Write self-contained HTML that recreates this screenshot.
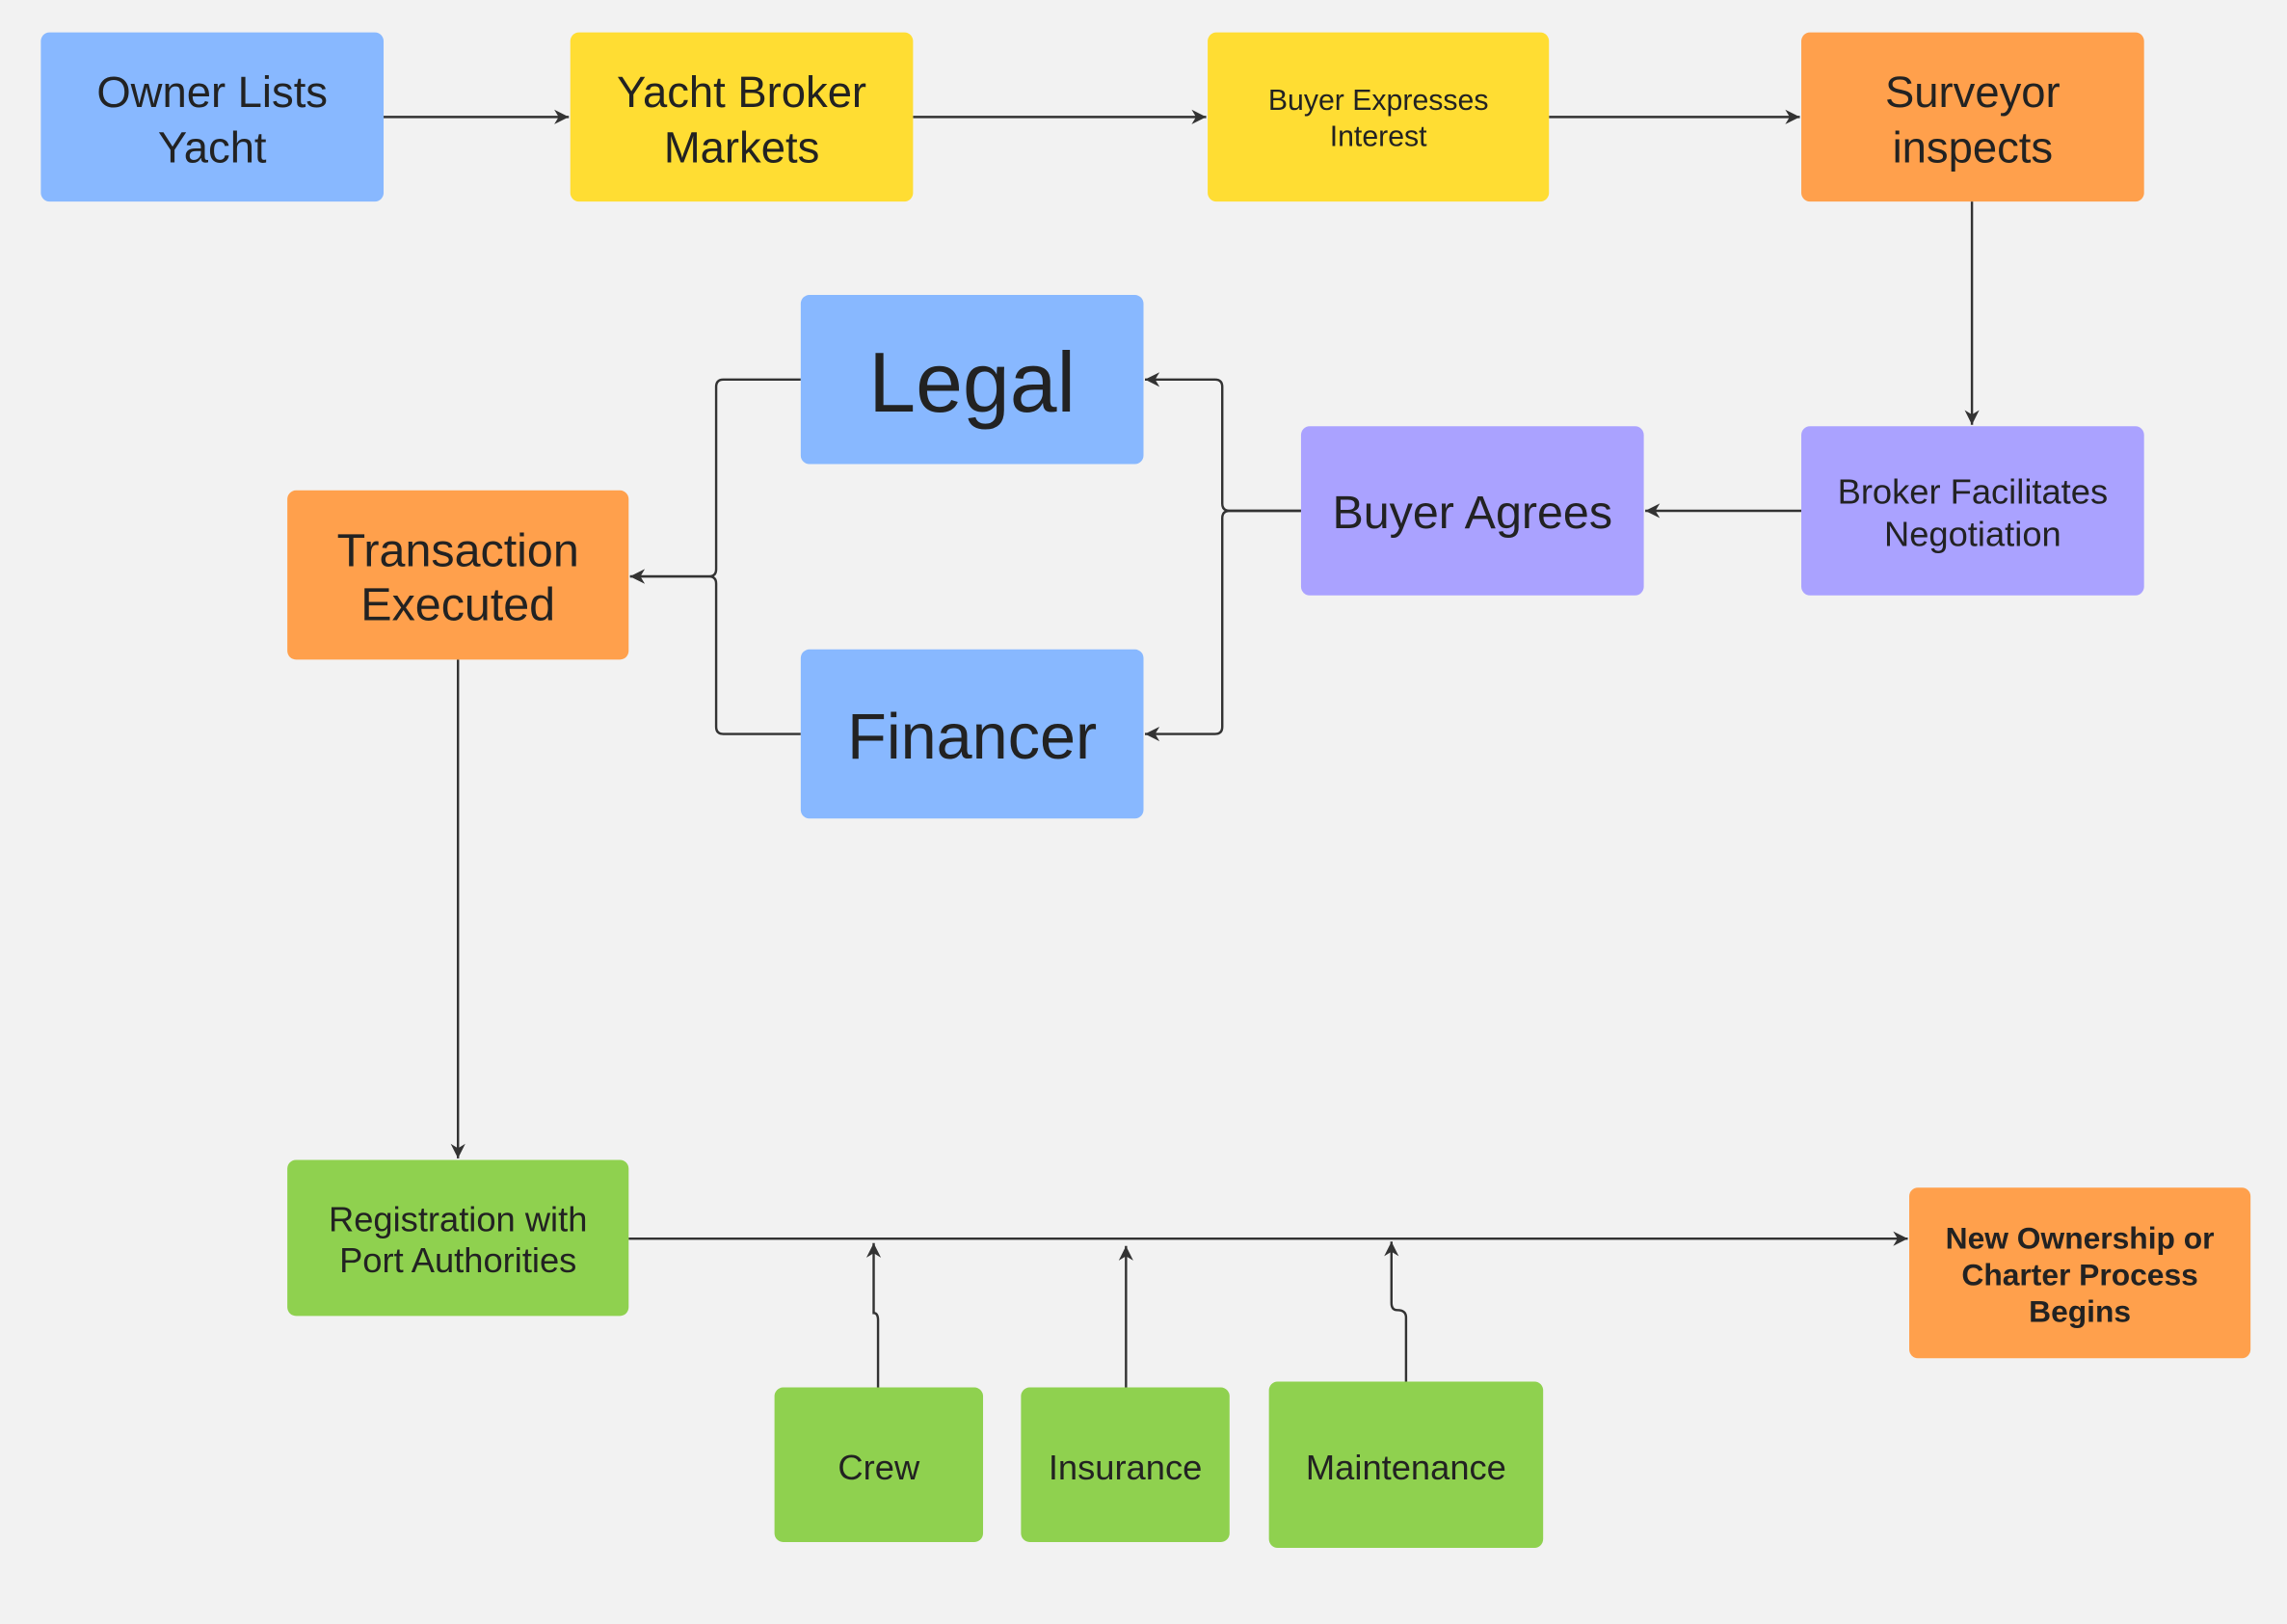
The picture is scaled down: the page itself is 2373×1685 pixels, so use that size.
<!DOCTYPE html>
<html><head><meta charset="utf-8"><style>
html,body{margin:0;padding:0;background:#f2f2f2;}
svg{display:block;}
text{font-family:"Liberation Sans",sans-serif;fill:#222;text-anchor:middle;}
</style></head><body>
<svg width="2373" height="1685" viewBox="0 0 1568 1113" xmlns="http://www.w3.org/2000/svg">
<defs>
<marker id="a" markerWidth="12" markerHeight="12" refX="11" refY="6" orient="auto" markerUnits="userSpaceOnUse">
<path d="M1,1 L11,6 L1,11 L4,6 Z" fill="#333"/>
</marker>
</defs>
<rect width="1568" height="1113" fill="#f2f2f2"/>
<g stroke="#333" stroke-width="1.6" fill="none" marker-end="url(#a)">
<path d="M263,80 H390"/>
<path d="M626,80 H827"/>
<path d="M1062,80 H1234"/>
<path d="M1352,138 V291"/>
<path d="M1235,350 H1128"/>
<path d="M892,350 H843 Q838,350 838,345 V265 Q838,260 833,260 H785"/>
<path d="M892,350 H843 Q838,350 838,355 V498 Q838,503 833,503 H785"/>
<path d="M549,260 H496 Q491,260 491,265 V390 Q491,395 486,395 H432"/>
<path d="M549,503 H496 Q491,503 491,498 V400 Q491,395 486,395 H432"/>
<path d="M314,452 V794"/>
<path d="M431,849 H1308"/>
<path d="M602,951 V905 Q602,900 599,900 V852"/>
<path d="M772,951 V854"/>
<path d="M964,947 V903 Q964,898 958,898 Q954,898 954,893 V851"/>
</g>
<g>
<rect x="28" y="22" width="235" height="116" rx="6" fill="#88b8ff"/>
<text x="145.5" y="73" font-size="30">Owner Lists</text><text x="145.5" y="111" font-size="30">Yacht</text>
<rect x="391" y="22" width="235" height="116" rx="6" fill="#ffdd33"/>
<text x="508.5" y="73" font-size="30">Yacht Broker</text><text x="508.5" y="111" font-size="30">Markets</text>
<rect x="828" y="22" width="234" height="116" rx="6" fill="#ffdd33"/>
<text x="945" y="75" font-size="20">Buyer Expresses</text><text x="945" y="100" font-size="20">Interest</text>
<rect x="1235" y="22" width="235" height="116" rx="6" fill="#ffa04c"/>
<text x="1352.5" y="73" font-size="30">Surveyor</text><text x="1352.5" y="111" font-size="30">inspects</text>
<rect x="549" y="202" width="235" height="116" rx="6" fill="#88b8ff"/>
<text x="666.5" y="282" font-size="58">Legal</text>
<rect x="892" y="292" width="235" height="116" rx="6" fill="#aaa2ff"/>
<text x="1009.5" y="362" font-size="32">Buyer Agrees</text>
<rect x="1235" y="292" width="235" height="116" rx="6" fill="#aaa2ff"/>
<text x="1352.5" y="345" font-size="24">Broker Facilitates</text><text x="1352.5" y="374" font-size="24">Negotiation</text>
<rect x="197" y="336" width="234" height="116" rx="6" fill="#ffa04c"/>
<text x="314" y="388" font-size="32">Transaction</text><text x="314" y="425" font-size="32">Executed</text>
<rect x="549" y="445" width="235" height="116" rx="6" fill="#88b8ff"/>
<text x="666.5" y="520" font-size="44">Financer</text>
<rect x="197" y="795" width="234" height="107" rx="6" fill="#8fd14f"/>
<text x="314" y="844" font-size="24">Registration with</text><text x="314" y="872" font-size="24">Port Authorities</text>
<rect x="1309" y="814" width="234" height="117" rx="6" fill="#ffa04c"/>
<text x="1426" y="856" font-size="21" font-weight="bold">New Ownership or</text><text x="1426" y="881" font-size="21" font-weight="bold">Charter Process</text><text x="1426" y="906" font-size="21" font-weight="bold">Begins</text>
<rect x="531" y="951" width="143" height="106" rx="6" fill="#8fd14f"/>
<text x="602.5" y="1014" font-size="24">Crew</text>
<rect x="700" y="951" width="143" height="106" rx="6" fill="#8fd14f"/>
<text x="771.5" y="1014" font-size="24">Insurance</text>
<rect x="870" y="947" width="188" height="114" rx="6" fill="#8fd14f"/>
<text x="964" y="1014" font-size="24">Maintenance</text>
</g>
</svg>
</body></html>
